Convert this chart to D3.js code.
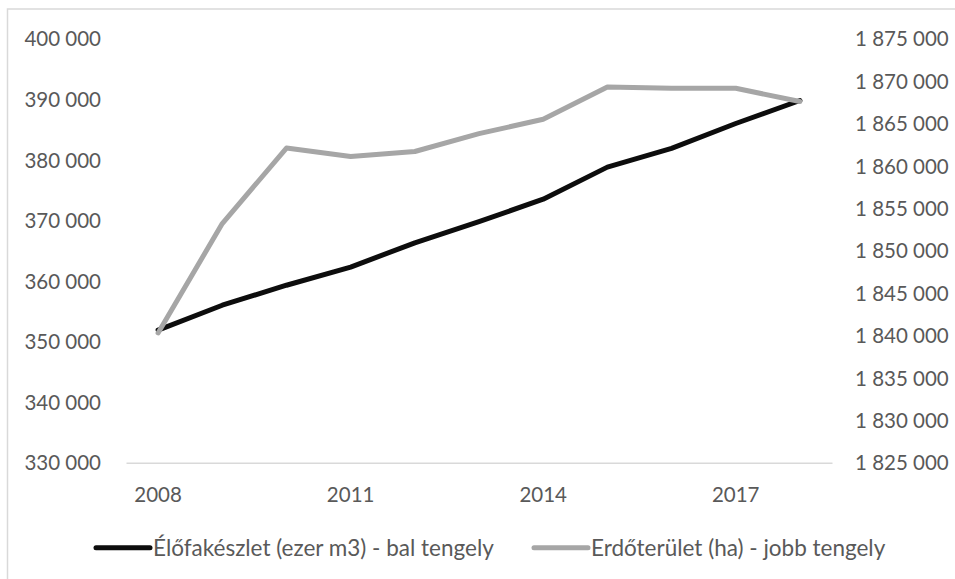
<!DOCTYPE html>
<html><head><meta charset="utf-8">
<script src="https://cdn.jsdelivr.net/npm/d3@7"></script>
<style>
html,body{margin:0;padding:0;background:#fff;}
svg{display:block;}
text{font-family:Lato,"Open Sans",sans-serif;fill:#595959;}
</style></head>
<body>
<svg id="c" width="955" height="579"></svg>
<script>
const years = ["2008","2009","2010","2011","2012","2013","2014","2015","2016","2017","2018"];
const stockValues = [351900,356000,359300,362300,366300,369800,373500,378800,381900,386000,389800];
const forestValues = [1840300,1853200,1862100,1861100,1861700,1863800,1865500,1869300,1869150,1869150,1867600];
const leftTicks = [330000,340000,350000,360000,370000,380000,390000,400000];
const rightTicks = [1825000,1830000,1835000,1840000,1845000,1850000,1855000,1860000,1865000,1870000,1875000];
const xTickLabels = ["2008","2011","2014","2017"];
const seriesNames = ["Élőfakészlet (ezer m3) - bal tengely","Erdőterület (ha) - jobb tengely"];
const seriesColors = ["#0d0d0d","#a6a6a6"];

const svg = d3.select("#c");
const fs = 20.5;
const legFs = 22.5;
const loc = d3.formatLocale({decimal:",",thousands:"\u00a0",grouping:[3],currency:["",""]});
const fmt = loc.format(",d");

// chart border
svg.append("rect").attr("x",7.5).attr("y",9).attr("width",1100).attr("height",700)
  .attr("fill","none").attr("stroke","#d9d9d9").attr("stroke-width",1.5);

const x = d3.scaleBand().domain(years).range([126,832]);
const cx = d => x(d) + x.bandwidth()/2;
const yL = d3.scaleLinear().domain([330000,400000]).range([462.7,38.7]);
const yR = d3.scaleLinear().domain([1825000,1875000]).range([462.7,38.7]);

// left axis
const gL = svg.append("g").attr("transform","translate(126,0)")
  .call(d3.axisLeft(yL).tickValues(leftTicks).tickSize(0).tickPadding(25).tickFormat(fmt));
gL.select(".domain").remove();
gL.selectAll("text").attr("font-size",fs).attr("dy","0.35em").style("font-family","Lato").attr("fill","#595959");

// right axis
const gR = svg.append("g").attr("transform","translate(832,0)")
  .call(d3.axisRight(yR).tickValues(rightTicks).tickSize(0).tickPadding(23).tickFormat(fmt));
gR.select(".domain").remove();
gR.selectAll("text").attr("font-size",fs).attr("dy","0.35em").style("font-family","Lato").attr("fill","#595959");

// bottom axis
const gB = svg.append("g").attr("transform","translate(0,462.7)")
  .call(d3.axisBottom(x).tickValues(xTickLabels).tickSize(0).tickSizeOuter(0).tickPadding(0));
gB.select(".domain").attr("stroke","#d9d9d9").attr("stroke-width",1.5);
gB.selectAll("text").attr("font-size",fs).attr("y",31.8).attr("dy","0.35em").style("font-family","Lato").attr("fill","#595959");

// lines
const lineL = d3.line().x((d,i)=>cx(years[i])).y(d=>yL(d));
const lineR = d3.line().x((d,i)=>cx(years[i])).y(d=>yR(d));
svg.append("path").datum(stockValues).attr("d",lineL).attr("fill","none")
  .attr("stroke",seriesColors[0]).attr("stroke-width",5).attr("stroke-linejoin","round").attr("stroke-linecap","round");
svg.append("path").datum(forestValues).attr("d",lineR).attr("fill","none")
  .attr("stroke",seriesColors[1]).attr("stroke-width",5).attr("stroke-linejoin","round").attr("stroke-linecap","round");

// legend
const legY = 547.7;
const legX = [96,534];
seriesNames.forEach((n,i)=>{
  svg.append("line").attr("x1",legX[i]).attr("x2",legX[i]+54).attr("y1",legY).attr("y2",legY)
    .attr("stroke",seriesColors[i]).attr("stroke-width",5).attr("stroke-linecap","round");
  svg.append("text").attr("x",legX[i]+57).attr("y",legY).attr("dy","0.35em")
    .attr("font-size",legFs).text(n);
});
</script>
</body></html>
